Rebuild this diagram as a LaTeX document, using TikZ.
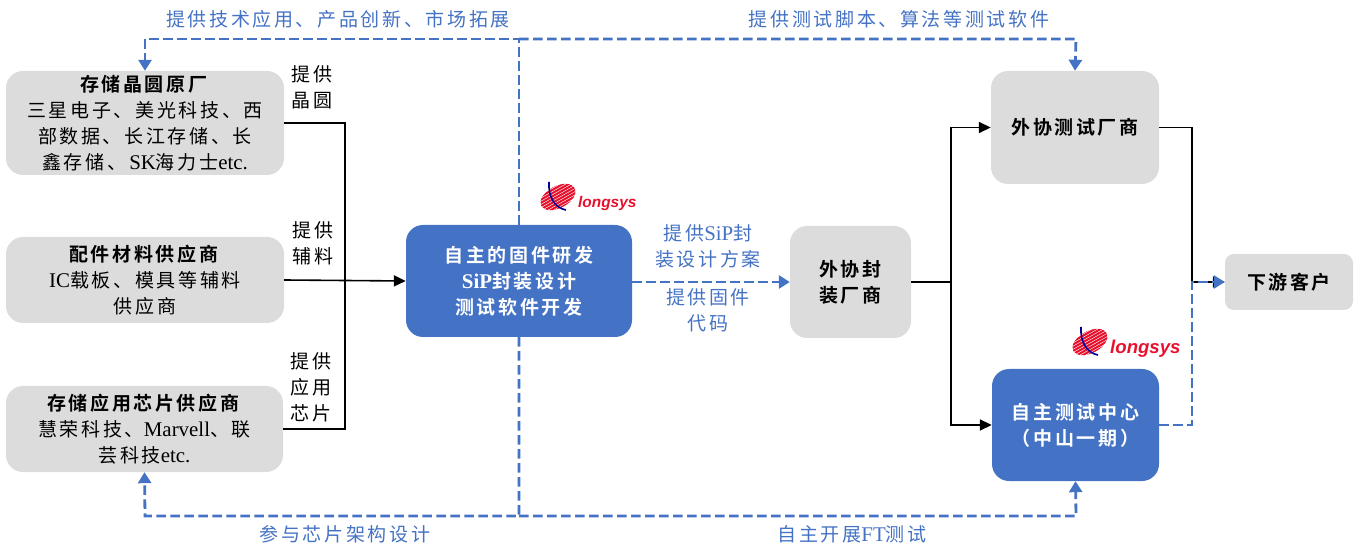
\documentclass[tikz,border=0pt]{standalone}
\usepackage{fontspec}
\setmainfont[LetterSpace=14,BoldFont={Noto Sans CJK SC Bold}]{Noto Sans CJK SC}
\newfontfamily\lat[Scale=1.1]{Liberation Serif}
\newfontfamily\logofont{Liberation Sans}
\newcommand{\la}[1]{{\lat #1}}
\usetikzlibrary{arrows.meta}
\definecolor{pBlue}{HTML}{4472C4}
\definecolor{pGray}{HTML}{DCDCDC}
\definecolor{pRed}{HTML}{E8112D}
\tikzset{
  graybox/.style={fill=pGray, rounded corners=17pt, inner sep=0pt, align=center, font=\fontsize{19}{26}\selectfont},
  bluebox/.style={fill=pBlue, rounded corners=17pt, inner sep=0pt, align=center, text=white, font=\fontsize{19}{26}\selectfont\bfseries},
  blacklabel/.style={inner sep=0pt, align=center, font=\fontsize{19}{26}\selectfont},
  bluelabel/.style={blacklabel, text=pBlue},
  solidline/.style={line width=1.6pt, -{Triangle[length=12pt,width=11pt]}},
  plainline/.style={line width=1.6pt},
  dashline/.style={line width=2.8pt, pBlue, dash pattern=on 9.5pt off 4.5pt},
  dasharrow/.style={dashline, -{Triangle[length=11pt,width=13pt]}},
  pics/longsys/.style={code={
    \begin{scope}[rotate=28]
      \clip (0,0) ellipse (19 and 11);
      \foreach \i in {-14,-11.2,...,14} {
        \draw[pRed, line width=2.1pt] (-22,\i) -- (22,\i+1);
      }
    \end{scope}
    \draw[blue!60!black, line width=1.6pt] (-9,15) .. controls (-10,0) and (-3,-11) .. (8,-13);
    \node[inner sep=0pt, anchor=west, text=pRed] (-word) at (20,-6.5) {\logofont\fontsize{#1}{#1}\selectfont\bfseries\itshape longsys};
  }}
}

\begin{document}
\begin{tikzpicture}[x=1pt, y=1pt]
  \useasboundingbox (0,0) rectangle (1362,549);

  % Left suppliers
  \node[graybox, minimum width=278pt, minimum height=104pt] (wafer) at (145,426) {\textbf{存储晶圆原厂}\\三星电子、美光科技、西\\部数据、长江存储、长\\鑫存储、\,\la{SK}海力士\la{etc.}};
  \node[graybox, minimum width=278pt, minimum height=86pt] (parts) at (145,269) {\textbf{配件材料供应商}\\\la{IC}载板、模具等辅料\\供应商};
  \node[graybox, minimum width=277pt, minimum height=86pt] (chips) at (144.5,120) {\textbf{存储应用芯片供应商}\\慧荣科技、\la{Marvell}、联\\芸科技\la{etc.}};

  % Middle and right boxes
  \node[bluebox, minimum width=226pt, minimum height=112pt] (core) at (519,268) {自主的固件研发\\\textbf{\la{SiP}}封装设计\\测试软件开发};
  \node[graybox, minimum width=121pt, minimum height=112pt, font=\fontsize{19}{26}\selectfont\bfseries] (pack) at (850.5,267) {外协封\\装厂商};
  \node[graybox, minimum width=168pt, minimum height=113pt, font=\fontsize{19}{26}\selectfont\bfseries] (test) at (1075,421.5) {外协测试厂商};
  \node[bluebox, minimum width=167pt, minimum height=112pt] (ftest) at (1075.5,124) {自主测试中心\\（中山一期）};
  \node[graybox, rounded corners=9pt, minimum width=128pt, minimum height=56pt, font=\fontsize{19}{26}\selectfont\bfseries] (client) at (1289,267) {下游客户};

  % Junctions
  \coordinate (railL) at (345,267);
  \coordinate (railM) at (951,267);
  \coordinate (railR) at (1192,267);
  \coordinate (topL) at (145,510);
  \coordinate (topM) at (519,510);
  \coordinate (topR) at (1076,510);
  \coordinate (botL) at (145,33);
  \coordinate (botM) at (519,33);
  \coordinate (botR) at (1076,33);

  % Dashed links
  \draw[dasharrow] (core.north) -- (topM) -- (topL) -- (wafer.north);
  \draw[dasharrow] (topM) -- (topR) -- (test.north);
  \draw[dasharrow] (core.south) -- (botM) -- (botL) -- (chips.south);
  \draw[dasharrow] (botM) -- (botR) -- (ftest.south);
  \draw[dasharrow] (core.east |- pack.west) -- (pack.west);

  % Solid links
  \draw[plainline] (wafer.east) -| (railL) |- (chips.east);
  \draw[solidline] (parts.east) -- (core.west);
  \draw[plainline] (pack.east) -- (railM);
  \draw[solidline] (railM) |- (test.west);
  \draw[solidline] (railM) |- (ftest.west);
  \draw[solidline] (test.east) -| (railR) -- (client.west);
  \draw[dasharrow] (ftest.east) -| (railR) -- (client.west);

  % Labels
  \node[bluelabel] (ltopL) at (338,530) {提供技术应用、产品创新、市场拓展};
  \node[bluelabel] (ltopR) at (899,530) {提供测试脚本、算法等测试软件};
  \node[bluelabel] (lbotL) at (345,15) {参与芯片架构设计};
  \node[bluelabel] (lbotR) at (852,15) {自主开展\la{FT}测试};
  \node[bluelabel] (lsip) at (708,303) {提供\la{SiP}封\\装设计方案};
  \node[bluelabel] (lfirm) at (708,239) {提供固件\\代码};
  \node[blacklabel] (lwafer) at (312,462) {提供\\晶圆};
  \node[blacklabel] (lparts) at (313,306) {提供\\辅料};
  \node[blacklabel] (lchips) at (311,162) {提供\\应用\\芯片};

  % Logos
  \pic (logoA) at (558,352) {longsys={15.4}};
  \pic (logoB) at (1090,207) {longsys={18.6}};

\end{tikzpicture}
\end{document}
